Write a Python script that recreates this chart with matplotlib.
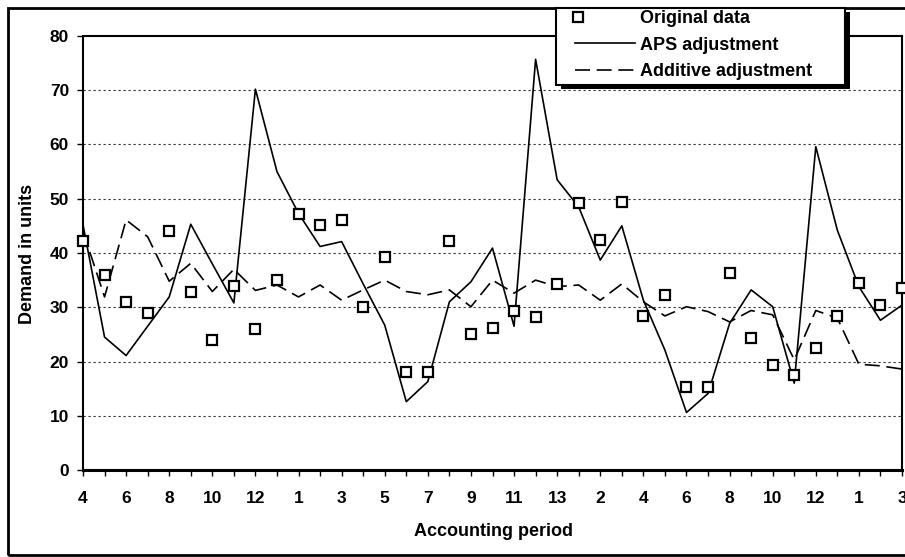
import matplotlib
matplotlib.use("Agg")
import matplotlib.pyplot as plt
from matplotlib.legend_handler import HandlerLine2D
from matplotlib.patches import Rectangle

# accounting periods shown on the x axis (13 periods per year)
periods = list(range(4, 14)) + list(range(1, 14)) + list(range(1, 14)) + [1, 2, 3]

original = [42.2, 36.0, 30.9, 28.9, 44.1, 32.9, 24.0, 34.0, 26.0, 35.0,
            47.1, 45.2, 46.1, 30.1, 39.2, 18.1, 18.1, 42.3, 25.1, 26.1,
            29.3, 28.2, 34.2, 49.3, 42.4, 49.4, 28.3, 32.3, 15.3, 15.3,
            36.4, 24.4, 19.4, 17.5, 22.4, 28.4, 34.4, 30.4, 33.5]

aps = [45.2, 24.5, 21.1, 26.5, 31.9, 45.3, 38.0, 30.8, 70.2, 55.0,
       47.3, 41.2, 42.1, 34.3, 26.7, 12.6, 16.3, 31.0, 34.7, 40.9,
       26.5, 75.7, 53.5, 48.5, 38.7, 45.0, 31.3, 22.1, 10.6, 14.1,
       27.0, 33.2, 30.1, 16.0, 59.6, 44.2, 33.8, 27.6, 30.4]

additive = [44.0, 31.9, 46.1, 43.0, 34.8, 38.1, 32.9, 37.0, 33.1, 34.1,
            31.9, 34.1, 31.3, 33.2, 35.0, 32.9, 32.3, 33.2, 30.1, 35.0,
            32.6, 35.0, 33.8, 34.1, 31.3, 34.3, 31.0, 28.4, 30.1, 29.2,
            27.3, 29.4, 28.6, 20.3, 29.4, 28.0, 19.5, 19.2, 18.6]

plt.rcParams['font.family'] = ['Liberation Sans', 'DejaVu Sans']
plt.rcParams['font.weight'] = 'bold'

W, H = 905, 557
x = list(range(len(periods)))

fig = plt.figure(figsize=(W / 100, H / 100), dpi=100)
ax = fig.add_axes([83 / W, 1 - 470 / H, 819 / W, 434 / H])

ax.plot(x, aps, color='black', lw=1.2, label='APS adjustment', zorder=3)
ax.plot(x, additive, color='black', lw=1.2, ls=(0, (9, 4)),
        label='Additive adjustment', zorder=3)
sq, = ax.plot(x, original, ls='none', marker='s', ms=7.5, mfc='white',
              mec='black', mew=1.6, label='Original data', clip_on=False,
              zorder=4)

ax.set_xlim(0, len(periods) - 1)
ax.set_ylim(0, 80)
ax.set_yticks(range(0, 81, 10))
ax.set_xticks(x)
ax.set_xticklabels([str(p) if i % 2 == 0 else '' for i, p in enumerate(periods)])
ax.tick_params(axis='both', direction='out', length=4, width=1, labelsize=12.5)
ax.tick_params(axis='x', pad=11)
ax.tick_params(axis='y', pad=6)

for y in range(10, 80, 10):
    ax.axhline(y, color='#333333', lw=0.8, ls=(0, (2, 2.5)), zorder=1)

for side in ['top', 'left', 'right']:
    ax.spines[side].set_linewidth(1.5)
ax.spines['bottom'].set_linewidth(2.2)

fig.text(27 / W, 1 - 254 / H, 'Demand in units', rotation=90,
         ha='center', va='center', fontsize=13, fontweight='bold')
fig.text(493 / W, 1 - 532 / H, 'Accounting period',
         ha='center', va='center', fontsize=13, fontweight='bold')

# outer frame round the whole chart
fig.patches.append(Rectangle((8 / W, 2 / H), 1.0, 1 - 10 / H,
                             transform=fig.transFigure, fill=False,
                             edgecolor='black', lw=2, zorder=0))

# legend box with a solid drop shadow
fig.patches.append(Rectangle((561 / W, 1 - 89 / H), 289 / W, 77 / H,
                             transform=fig.transFigure, facecolor='black',
                             edgecolor='none', zorder=5))
fig.patches.append(Rectangle((556 / W, 1 - 85 / H), 289 / W, 77 / H,
                             transform=fig.transFigure, facecolor='white',
                             edgecolor='black', lw=1.5, zorder=6))


class LeftMarker(HandlerLine2D):
    # marker sits at the left end of the handle, not in the middle
    def get_xdata(self, legend, xdescent, ydescent, width, height, fontsize):
        m = -xdescent + 0.05 * width
        return [m - 1, m + 1], [m]


handles, labels = ax.get_legend_handles_labels()
order = [2, 0, 1]
leg = fig.legend([handles[i] for i in order], [labels[i] for i in order],
                 loc='upper left', bbox_to_anchor=(575 / W, 1 - 10 / H),
                 fontsize=13, frameon=False,
                 handlelength=3.3, handletextpad=0.28, labelspacing=0.53,
                 borderpad=0, borderaxespad=0,
                 handler_map={sq: LeftMarker()})
leg.set_zorder(7)

fig.savefig('out.png', dpi=100)
